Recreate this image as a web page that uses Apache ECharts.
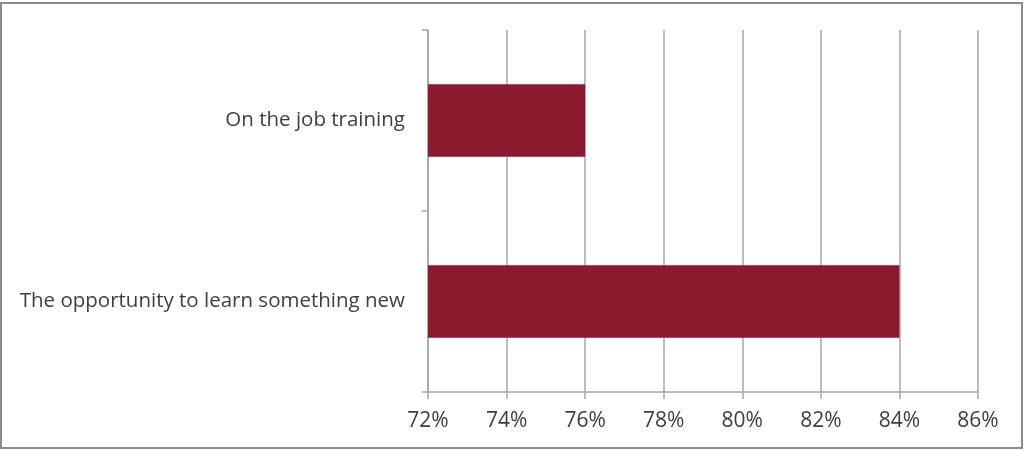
<!DOCTYPE html>
<html>
<head>
<meta charset="utf-8">
<style>
  html, body { margin: 0; padding: 0; background: #ffffff; }
  #chart { width: 1026px; height: 451px; }
</style>
<script src="https://cdn.jsdelivr.net/npm/echarts@6/dist/echarts.min.js"></script>
</head>
<body>
<div id="chart"></div>
<script>
// Survey responses (percent)
const categories = ['On the job training', 'The opportunity to learn something new'];
const values = [76, 84];
const axisMin = 72;
const axisMax = 86;
const axisStep = 2;

const chart = echarts.init(document.getElementById('chart'), null, { renderer: 'canvas' });
const textColor = '#404040';
const lineColor = '#a6a6a6';
const fontFamily = '"Open Sans", "Liberation Sans", sans-serif';

chart.setOption({
  animation: false,
  backgroundColor: '#ffffff',
  graphic: [{
    type: 'rect',
    shape: { x: 1, y: 3, width: 1021, height: 445 },
    style: { fill: 'none', stroke: '#8c8c8c', lineWidth: 2 },
    silent: true
  }],
  grid: { left: 428, right: 48, top: 30, bottom: 59, containLabel: false },
  xAxis: {
    type: 'value',
    min: axisMin,
    max: axisMax,
    interval: axisStep,
    axisLine: { show: true, lineStyle: { color: lineColor, width: 1.5 } },
    axisTick: { show: true, length: 7, lineStyle: { color: lineColor, width: 1.5 } },
    splitLine: { show: true, lineStyle: { color: lineColor, width: 1.5 } },
    axisLabel: {
      formatter: '{value}%',
      color: textColor,
      fontSize: 21,
      fontFamily: fontFamily,
      margin: 19
    }
  },
  yAxis: {
    type: 'category',
    data: categories,
    inverse: true,
    axisLine: { show: true, lineStyle: { color: lineColor, width: 1.5 } },
    axisTick: { show: true, length: 6, alignWithLabel: false, lineStyle: { color: lineColor, width: 1.5 } },
    splitLine: { show: false },
    axisLabel: {
      color: textColor,
      fontSize: 20.5,
      fontFamily: fontFamily,
      margin: 23
    }
  },
  series: [{
    type: 'bar',
    data: values,
    barCategoryGap: '60%',
    itemStyle: { color: '#8c1a2e' }
  }]
});
</script>
</body>
</html>
